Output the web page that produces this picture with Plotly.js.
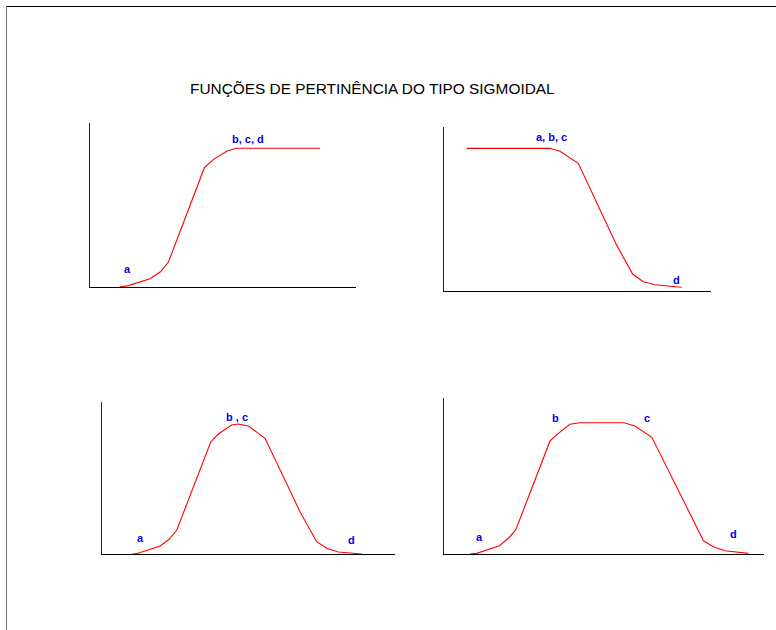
<!DOCTYPE html>
<html>
<head>
<meta charset="utf-8">
<script src="https://cdn.plot.ly/plotly-3.0.1.min.js"></script>
<style>html,body{margin:0;padding:0;background:#fff;}#chart{width:776px;height:630px;}</style>
</head>
<body>
<div id="chart"></div>
<script>
// Panel 1: increasing sigmoid (a -> b,c,d)
const p1X = [1.1, 1.45, 2.25, 2.65, 2.95, 4.3, 4.65, 5.15, 5.5, 8.65];
const p1Y = [0, 0.01, 0.06, 0.11, 0.18, 0.86, 0.92, 0.98, 1, 1];
// Panel 2: decreasing sigmoid (a,b,c -> d)
const p2X = [0.84, 3.97, 4.34, 5.03, 6.47, 7.07, 7.47, 7.91, 8.91];
const p2Y = [1, 1, 0.98, 0.895, 0.32, 0.117, 0.063, 0.042, 0.024];
// Panel 3: bell (a, b=c, d)
const p3X = [1.02, 1.19, 1.99, 2.3, 2.56, 3.72, 3.98, 4.43, 4.66, 5.0, 5.57, 6.76, 7.33, 7.67, 8.07, 8.87];
const p3Y = [0, 0.005, 0.064, 0.115, 0.186, 0.864, 0.923, 0.992, 1, 0.985, 0.89, 0.327, 0.097, 0.046, 0.018, 0.002];
// Panel 4: trapezoidal sigmoid (a, b, c, d)
const p4X = [0.81, 1.02, 1.73, 2.01, 2.24, 3.31, 3.57, 3.93, 4.25, 5.62, 5.96, 6.49, 8.1, 8.41, 8.77, 9.5];
const p4Y = [0, 0.005, 0.063, 0.12, 0.183, 0.861, 0.919, 0.988, 1, 1, 0.975, 0.889, 0.101, 0.056, 0.025, 0.005];

// Point labels: text, x, y per panel
const p1Labels = [["a", 1.42, 0.128], ["b, c, d", 5.95, 1.07]];
const p2Labels = [["a, b, c", 4.03, 1.077], ["d", 8.72, 0.075]];
const p3Labels = [["a", 1.31, 0.123], ["b , c", 4.6, 1.056], ["d", 8.52, 0.11]];
const p4Labels = [["a", 1.1, 0.127], ["b", 3.47, 1.034], ["c", 6.35, 1.034], ["d", 9.03, 0.15]];

const titleText = "FUNÇÕES DE PERTINÊNCIA DO TIPO SIGMOIDAL";

const W = 776, H = 630;
const panels = [
  {x: p1X, y: p1Y, labels: p1Labels, px: [90, 356], py: [287, 123], ytop: 1.182},
  {x: p2X, y: p2Y, labels: p2Labels, px: [444.3, 710.7], py: [290.7, 126.7], ytop: 1.152},
  {x: p3X, y: p3Y, labels: p3Labels, px: [101.7, 395], py: [554.3, 401.7], ytop: 1.171},
  {x: p4X, y: p4Y, labels: p4Labels, px: [444, 764.3], py: [554, 398], ytop: 1.188}
];

const data = [];
const annotations = [];
const layout = {
  width: W, height: H,
  margin: {l: 0, r: 0, t: 0, b: 0},
  paper_bgcolor: "#fff", plot_bgcolor: "rgba(0,0,0,0)",
  showlegend: false,
  font: {family: "Liberation Sans, Arial, sans-serif"},
  shapes: [
    {type: "line", xref: "paper", yref: "paper", x0: 6/W, x1: 1, y0: 1 - 6.5/H, y1: 1 - 6.5/H, line: {color: "#000", width: 1}},
    {type: "line", xref: "paper", yref: "paper", x0: 6.5/W, x1: 6.5/W, y0: 0, y1: 1 - 6/H, line: {color: "#777", width: 1}}
  ]
};

panels.forEach((p, i) => {
  const n = i + 1;
  const xa = n === 1 ? "x" : "x" + n;
  const ya = n === 1 ? "y" : "y" + n;
  data.push({
    x: p.x, y: p.y, xaxis: xa, yaxis: ya, type: "scatter", mode: "lines",
    line: {color: "#ff0000", width: 1.1}, hoverinfo: "skip"
  });
  const axCommon = {showgrid: false, zeroline: false, showticklabels: false, ticks: "", showline: true, fixedrange: true};
  layout["xaxis" + (n === 1 ? "" : n)] = Object.assign({}, axCommon, {
    domain: [p.px[0] / W, p.px[1] / W], range: [0, 10], anchor: ya, linecolor: "#000", linewidth: 1
  });
  layout["yaxis" + (n === 1 ? "" : n)] = Object.assign({}, axCommon, {
    domain: [1 - p.py[0] / H, 1 - p.py[1] / H], range: [0, p.ytop], anchor: xa, linecolor: "#222", linewidth: 1
  });
  p.labels.forEach(l => {
    annotations.push({
      text: "<b>" + l[0] + "</b>", x: l[1], y: l[2], xref: xa, yref: ya,
      showarrow: false, xanchor: "center", yanchor: "middle",
      font: {family: "Liberation Sans, Arial, sans-serif", size: 11, color: "#0000ee"}
    });
  });
});

annotations.push({
  text: titleText, xref: "paper", yref: "paper", x: 372.5 / W, y: 1 - 89 / H,
  showarrow: false, xanchor: "center", yanchor: "middle",
  font: {family: "Liberation Sans, Arial, sans-serif", size: 15.4, color: "#000"}
});
layout.annotations = annotations;

Plotly.newPlot("chart", data, layout, {displayModeBar: false, staticPlot: true});
</script>
</body>
</html>
